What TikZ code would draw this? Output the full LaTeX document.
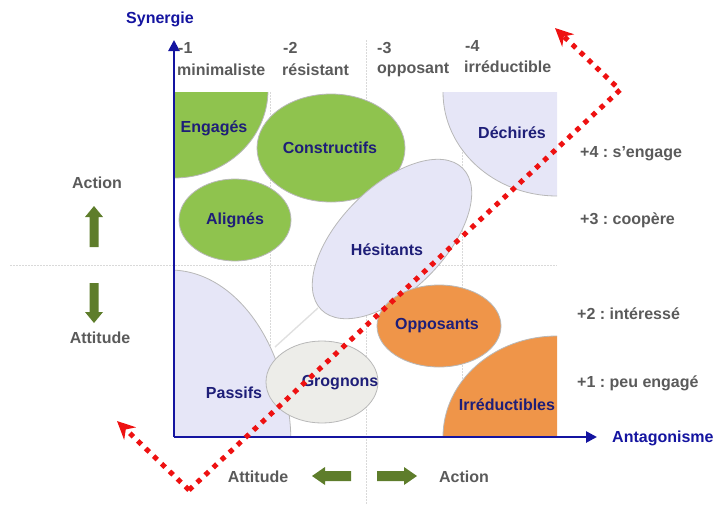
\documentclass[tikz,border=0pt]{standalone}
\usepackage{fontspec}
\setmainfont{Liberation Sans}
\usetikzlibrary{arrows.meta}
\definecolor{navy}{HTML}{1E1E78}
\definecolor{axisblue}{HTML}{1414A0}
\definecolor{txtgray}{HTML}{5A5A5A}
\definecolor{leaf}{HTML}{8FC34E}
\definecolor{lav}{HTML}{E6E6F7}
\definecolor{ora}{HTML}{EF9549}
\definecolor{fog}{HTML}{EDEDE9}
\definecolor{olive}{HTML}{5E7D2B}
\definecolor{dotred}{HTML}{EE1111}
\frenchspacing
\begin{document}
\begin{tikzpicture}[x=1pt,y=-1pt,
  grp/.style={font=\fontsize{16}{19}\selectfont\bfseries, text=navy, inner sep=0pt},
  lbl/.style={font=\fontsize{16}{19}\selectfont\bfseries, text=txtgray, inner sep=0pt},
  zone/.style={draw=black!28, line width=0.8pt},
  gridline/.style={draw=black!15, dash pattern=on 1.5pt off 1.5pt, line width=0.8pt},
  axisline/.style={draw=axisblue, line width=2.6pt, -{Triangle[length=11pt,width=11pt]}},
  reddots/.style={draw=dotred, line width=5pt, dash pattern=on 5pt off 6pt,
                  -{Stealth[length=18pt,width=17pt]}},
  blockarrow/.style={fill=olive, draw=none}
]
\useasboundingbox (0,0) rectangle (715,504);

% background grid
\draw[gridline] (10,265) -- (557,265);
\draw[gridline] (270,92) -- (270,437);
\draw[gridline] (366,40) -- (366,504);
\draw[gridline] (462,92) -- (462,437);
\draw[draw=black!12, line width=1.4pt] (275,347) -- (318,308);

% clipped zones in the corners of the plot
\begin{scope}
  \clip (174,92) rectangle (557,437);
  \filldraw[zone, fill=leaf] (174,90) ellipse [x radius=94, y radius=88];
  \filldraw[zone, fill=lav] (557,92) ellipse [x radius=114, y radius=104];
  \filldraw[zone, fill=lav] (170,445) ellipse [x radius=121, y radius=175];
  \filldraw[zone, fill=ora] (557,437) ellipse [x radius=114, y radius=101];
\end{scope}

% free zones
\filldraw[zone, fill=leaf] (331,148) ellipse [x radius=74, y radius=54];
\filldraw[zone, fill=leaf] (235,220) ellipse [x radius=56, y radius=41];
\filldraw[zone, fill=lav, rotate around={45:(392,239)}] (392,239) ellipse [x radius=100, y radius=52];
\filldraw[zone, fill=fog] (322,382) ellipse [x radius=56, y radius=41];
\filldraw[zone, fill=ora] (439,326) ellipse [x radius=62, y radius=41];

% group labels
\node[grp] (engages) at (214,128) {Engagés};
\node[grp] (constructifs) at (330,148) {Constructifs};
\node[grp] (alignes) at (235,220) {Alignés};
\node[grp] (dechires) at (512,133) {Déchirés};
\node[grp] (hesitants) at (387,250) {Hésitants};
\node[grp] (passifs) at (234,393) {Passifs};
\node[grp] (grognons) at (340,383) {Grognons};
\node[grp] (opposants) at (437,326) {Opposants};
\node[grp] (irreductibles) at (507,405) {Irréductibles};

% axes
\coordinate (origin) at (174,437);
\coordinate (ytip) at (174,40);
\coordinate (xtip) at (597,437);
\draw[axisline] (origin) -- (ytip);
\draw[axisline] (origin) -- (xtip);
\node[font=\fontsize{16}{19}\selectfont\bfseries, text=axisblue] (synergie) at (160,19) {Synergie};
\node[font=\fontsize{16}{19}\selectfont\bfseries, text=axisblue, anchor=west, inner sep=0pt] (antagonisme) at (612,438) {Antagonisme};

% antagonism scale
\node[lbl, anchor=west] (a1) at (178,48) {-1};
\node[lbl, anchor=west] (a1t) at (177,70) {minimaliste};
\node[lbl, anchor=west] (a2) at (283,48) {-2};
\node[lbl, anchor=west] (a2t) at (282,70) {résistant};
\node[lbl, anchor=west] (a3) at (377,48) {-3};
\node[lbl, anchor=west] (a3t) at (377,70) {opposant};
\node[lbl, anchor=west] (a4) at (465,46) {-4};
\node[lbl, anchor=west] (a4t) at (464,67) {irréductible};

% synergy scale
\node[lbl, anchor=west] (s4) at (580,154) {+4 : s’engage};
\node[lbl, anchor=west] (s3) at (580,220) {+3 : coopère};
\node[lbl, anchor=west] (s2) at (577,314) {+2 : intéressé};
\node[lbl, anchor=west] (s1) at (577,383) {+1 : peu engagé};

% left legend
\node[lbl] (lact) at (97,183) {Action};
\node[lbl] (latt) at (100,338) {Attitude};
\fill[blockarrow] (89.5,247) -- (98.5,247) -- (98.5,217) -- (103,217) -- (94,206) -- (85,217) -- (89.5,217) -- cycle;
\fill[blockarrow] (89.5,283) -- (98.5,283) -- (98.5,312) -- (103,312) -- (94,323) -- (85,312) -- (89.5,312) -- cycle;

% bottom legend
\node[lbl] (batt) at (258,477) {Attitude};
\node[lbl] (bact) at (464,477) {Action};
\fill[blockarrow] (351,471) -- (351,481) -- (325,481) -- (325,485) -- (312,476) -- (325,467) -- (325,471) -- cycle;
\fill[blockarrow] (377,471) -- (377,481) -- (404,481) -- (404,485) -- (417,476) -- (404,467) -- (404,471) -- cycle;

% red dotted diagonal
\coordinate (vee) at (189,490);
\coordinate (lefttip) at (117,421);
\coordinate (corner) at (620,90);
\coordinate (righttip) at (555,28);
\draw[reddots] (vee) -- (lefttip);
\draw[reddots] (vee) -- (corner) -- (righttip);
\end{tikzpicture}
\end{document}
